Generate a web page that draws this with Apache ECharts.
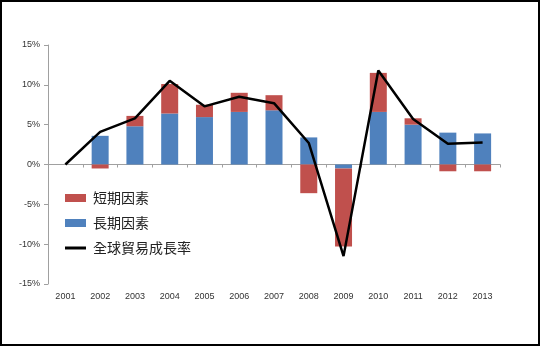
<!DOCTYPE html>
<html>
<head>
<meta charset="utf-8">
<script src="https://cdn.jsdelivr.net/npm/echarts@6/dist/echarts.min.js"></script>
<style>
html,body{margin:0;padding:0;background:#fff;}
#c{width:540px;height:346px;}
</style>
</head>
<body>
<div id="c"></div>
<script>
const years = ['2001','2002','2003','2004','2005','2006','2007','2008','2009','2010','2011','2012','2013'];
// long-term factor
const longTerm = [null, 3.6, 4.8, 6.4, 5.95, 6.6, 6.8, 3.4, -0.5, 6.6, 5.0, 4.0, 3.9];
// short-term factor
const shortTerm = [null, -0.5, 1.3, 3.7, 1.55, 2.4, 1.9, -3.6, -9.8, 4.9, 0.8, -0.85, -0.85];
// global trade growth rate
const growth = [0, 4.1, 5.8, 10.5, 7.3, 8.5, 7.7, 2.7, -11.5, 11.8, 5.7, 2.6, 2.75];
const yTicks = [-15, -10, -5, 0, 5, 10, 15];

const chart = echarts.init(document.getElementById('c'), null, {renderer: 'canvas'});
const labelFont = {fontFamily: 'Liberation Sans, Arial, sans-serif', fontSize: 9, color: '#333'};
chart.setOption({
  animation: false,
  backgroundColor: '#fff',
  graphic: [{
    type: 'rect', shape: {x: 1, y: 1, width: 538, height: 344},
    style: {fill: 'none', stroke: '#000', lineWidth: 2}, silent: true
  }],
  grid: {left: 48, right: 40, top: 45, bottom: 62},
  legend: {
    left: 60, top: 186, orient: 'vertical', itemGap: 11,
    itemWidth: 21, itemHeight: 8,
    textStyle: {fontFamily: 'Noto Sans CJK TC', fontSize: 14, color: '#222', padding: [0,0,0,2]},
    data: [
      {name: '短期因素', icon: 'rect'},
      {name: '長期因素', icon: 'rect'},
      {name: '全球貿易成長率', icon: 'path://M0,0 L21,0 L21,3 L0,3 Z', itemStyle: {color: '#000'}}
    ]
  },
  xAxis: [{
    type: 'category', data: years, position: 'bottom',
    axisLine: {show: false, onZero: false}, axisTick: {show: false},
    axisLabel: Object.assign({margin: 8}, labelFont)
  }, {
    type: 'category', data: years, position: 'bottom',
    axisLine: {show: true, onZero: true, lineStyle: {color: '#a0a0a0', width: 1}},
    axisTick: {show: true, length: 3, lineStyle: {color: '#a0a0a0'}},
    axisLabel: {show: false}
  }],
  yAxis: {
    type: 'value', min: yTicks[0], max: yTicks[yTicks.length - 1], interval: 5,
    axisLine: {show: true, lineStyle: {color: '#a0a0a0'}},
    axisTick: {show: true, length: 4, lineStyle: {color: '#a0a0a0'}},
    splitLine: {show: false},
    axisLabel: Object.assign({margin: 8, formatter: v => v + '%'}, labelFont)
  },
  series: [{
    name: '長期因素', type: 'bar', stack: 'f', data: longTerm, barWidth: 17,
    itemStyle: {color: '#4f81bd'}
  }, {
    name: '短期因素', type: 'bar', stack: 'f', data: shortTerm, barWidth: 17,
    itemStyle: {color: '#c0504d'}
  }, {
    name: '全球貿易成長率', type: 'line', data: growth, symbol: 'none',
    lineStyle: {color: '#000', width: 2.5}, itemStyle: {color: '#000'}
  }]
});
</script>
</body>
</html>
